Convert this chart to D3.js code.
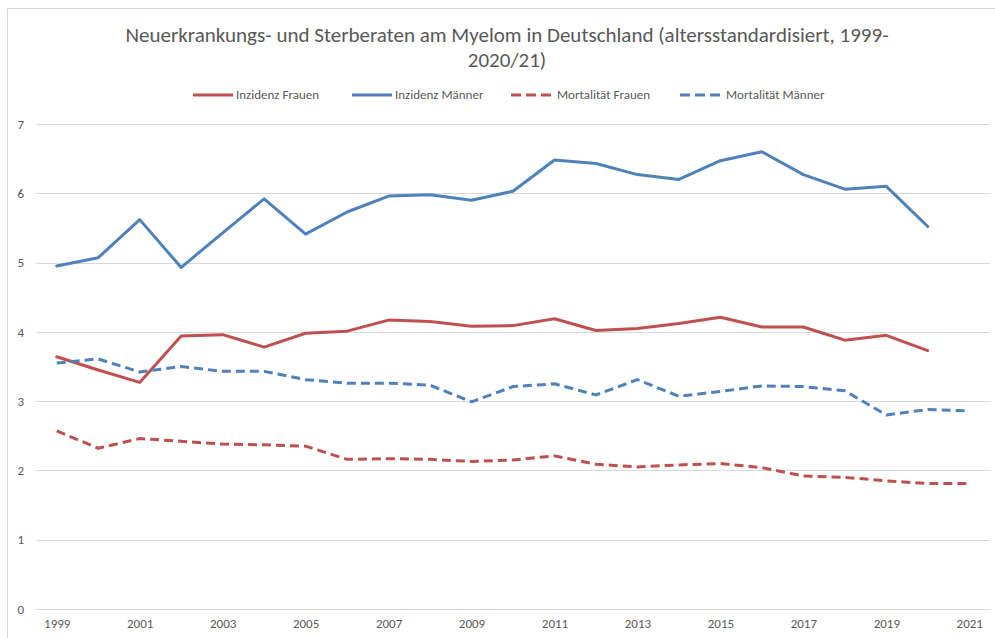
<!DOCTYPE html>
<html><head><meta charset="utf-8">
<script src="https://cdn.jsdelivr.net/npm/d3@7"></script>
<style>
body{margin:0;background:#fff;}
svg{display:block;font-family:Carlito,Lato,"Open Sans",sans-serif;}
</style></head>
<body>
<svg id="c" width="995" height="638"></svg>
<script>
const years = d3.range(1999, 2022);
const tickYears = [1999,2001,2003,2005,2007,2009,2011,2013,2015,2017,2019,2021];
const yTicks = [0,1,2,3,4,5,6,7];
const titleLines = ["Neuerkrankungs- und Sterberaten am Myelom in Deutschland (altersstandardisiert, 1999-", "2020/21)"];
const seriesNames = ["Inzidenz Frauen","Inzidenz Männer","Mortalität Frauen","Mortalität Männer"];
const inzidenzFrauen = [3.64,3.45,3.27,3.94,3.96,3.78,3.98,4.01,4.17,4.15,4.08,4.09,4.19,4.02,4.05,4.12,4.21,4.07,4.07,3.88,3.95,3.73,null];
const inzidenzMaenner = [4.95,5.07,5.62,4.93,5.43,5.92,5.41,5.73,5.96,5.98,5.90,6.03,6.48,6.43,6.27,6.20,6.47,6.60,6.27,6.06,6.10,5.52,null];
const mortalitaetFrauen = [2.57,2.32,2.46,2.42,2.38,2.37,2.35,2.16,2.17,2.16,2.13,2.15,2.21,2.09,2.05,2.08,2.10,2.04,1.92,1.90,1.85,1.81,1.81];
const mortalitaetMaenner = [3.55,3.61,3.42,3.50,3.43,3.43,3.31,3.26,3.26,3.23,2.99,3.21,3.25,3.09,3.31,3.07,3.14,3.22,3.21,3.15,2.80,2.88,2.86];

const colors = ["#C0504D","#4F81BD","#C0504D","#4F81BD"];
const dashes = [null,null,"9,5","9,5"];
const allSeries = [inzidenzFrauen, inzidenzMaenner, mortalitaetFrauen, mortalitaetMaenner];

const svg = d3.select("#c");
const textColor = "#595959";

// chart border
svg.append("path").attr("d","M7.5,638 V8.5 H995").attr("fill","none").attr("stroke","#d9d9d9").attr("stroke-width",1);

const x = d3.scalePoint().domain(years).range([36,990]).padding(0.5);
const y = d3.scaleLinear().domain([0,7]).range([609,124]);

// gridlines
svg.append("g").selectAll("line").data(yTicks).join("line")
  .attr("x1",36).attr("x2",990)
  .attr("y1",d=>Math.round(y(d))+0.5).attr("y2",d=>Math.round(y(d))+0.5)
  .attr("stroke","#d9d9d9").attr("stroke-width",1);

// y axis labels
const yAxis = d3.axisLeft(y).tickValues(yTicks).tickSize(0).tickPadding(0).tickFormat(d3.format("d"));
const gy = svg.append("g").attr("transform","translate(24,0)").call(yAxis);
gy.select(".domain").remove();
gy.selectAll("text").attr("fill",textColor).attr("font-size",13).attr("font-family","Carlito,Lato,sans-serif");

// x axis labels
const xAxis = d3.axisBottom(x).tickValues(tickYears).tickSize(0).tickPadding(0);
const gx = svg.append("g").attr("transform","translate(0,619)").call(xAxis);
gx.select(".domain").remove();
gx.selectAll("text").attr("fill",textColor).attr("font-size",13).attr("font-family","Carlito,Lato,sans-serif");

// lines
const line = d3.line().defined(d=>d.v!=null).x(d=>x(d.yr)).y(d=>y(d.v));
allSeries.forEach((s,i)=>{
  const data = years.map((yr,j)=>({yr, v:s[j]}));
  const p = svg.append("path").datum(data).attr("d",line)
    .attr("fill","none").attr("stroke",colors[i]).attr("stroke-width",3)
    .attr("stroke-linejoin","round").attr("stroke-linecap", dashes[i] ? "butt" : "round");
  if (dashes[i]) p.attr("stroke-dasharray",dashes[i]);
});

// title
const t = svg.append("text").attr("fill",textColor).attr("font-size",21).attr("text-anchor","middle");
titleLines.forEach((l,i)=>{
  t.append("tspan").attr("x",507).attr("y",42 + i*25).text(l);
});

// legend
const legendX = [193,352,511,680];
const lg = svg.append("g");
seriesNames.forEach((n,i)=>{
  lg.append("line").attr("x1",legendX[i]).attr("x2",legendX[i]+40).attr("y1",95).attr("y2",95)
    .attr("stroke",colors[i]).attr("stroke-width",3).attr("stroke-dasharray",dashes[i] ? "10,5" : null);
  lg.append("text").attr("x",legendX[i]+(dashes[i]?46:43)).attr("y",99).attr("fill",textColor)
    .attr("font-size",13).text(n);
});
</script>
</body></html>
